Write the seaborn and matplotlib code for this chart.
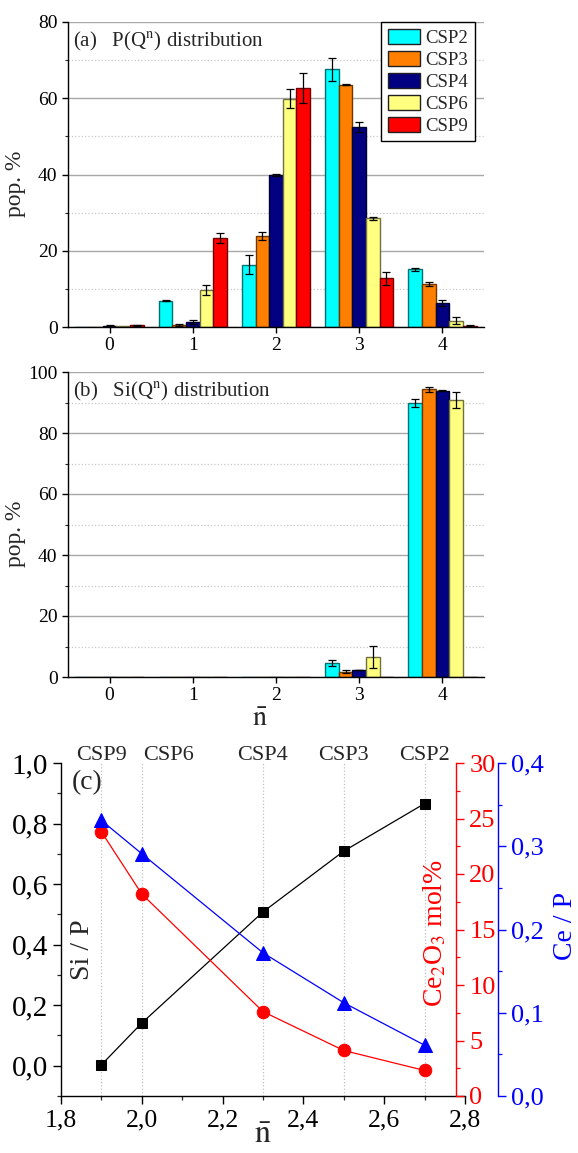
import numpy as np
import pandas as pd
import matplotlib
matplotlib.use('Agg')
import matplotlib.pyplot as plt
import matplotlib.ticker as mticker
from matplotlib.patches import Patch
import seaborn as sns

# ---------------- data ----------------
samples = ['CSP2', 'CSP3', 'CSP4', 'CSP6', 'CSP9']
qn = ['0', '1', '2', '3', '4']

# (a) P(Q^n) populations (%) and errors
p_csp2 = [0.05, 6.9, 16.3, 67.6, 15.1]
p_csp3 = [0.05, 0.5, 23.9, 63.6, 11.2]
p_csp4 = [0.3, 1.4, 39.9, 52.5, 6.2]
p_csp6 = [0.3, 9.7, 59.9, 28.5, 1.7]
p_csp9 = [0.4, 23.4, 62.6, 12.8, 0.3]
p_err2 = [0.0, 0.2, 2.5, 3.0, 0.3]
p_err3 = [0.0, 0.3, 1.1, 0.2, 0.5]
p_err4 = [0.2, 0.5, 0.2, 1.3, 0.8]
p_err6 = [0.0, 1.2, 2.4, 0.4, 0.8]
p_err9 = [0.2, 1.3, 3.9, 1.7, 0.1]

# (b) Si(Q^n) populations (%) and errors
si_csp2 = [0, 0, 0, 4.6, 89.8]
si_csp3 = [0, 0, 0, 1.7, 94.3]
si_csp4 = [0, 0, 0, 2.3, 93.9]
si_csp6 = [0, 0, 0, 6.6, 90.8]
si_csp9 = [0, 0, 0, 0, 0]
si_err2 = [0, 0, 0, 1.0, 1.3]
si_err3 = [0, 0, 0, 0.5, 0.9]
si_err4 = [0, 0, 0, 0.1, 0.2]
si_err6 = [0, 0, 0, 3.7, 2.5]
si_err9 = [0, 0, 0, 0, 0]

# (c) composition vs mean n
c_labels = ['CSP9', 'CSP6', 'CSP4', 'CSP3', 'CSP2']
n_bar = [1.9, 2.0, 2.3, 2.5, 2.7]
si_p = [0.003, 0.141, 0.508, 0.709, 0.866]
ce2o3_mol = [23.8, 18.2, 7.6, 4.1, 2.3]
ce_p = [0.331, 0.291, 0.172, 0.112, 0.061]

# ---------------- style ----------------
face_colors = ['#00FFFF', '#FF8000', '#000080', '#FFFF80', '#FF0000']
edge_colors = ['#007070', '#703800', '#000030', '#707040', '#700000']

sns.set_style('ticks')
plt.rcParams['font.family'] = 'serif'
plt.rcParams['font.serif'] = ['Liberation Serif', 'STIXGeneral', 'DejaVu Serif']
plt.rcParams['mathtext.fontset'] = 'stix'
plt.rcParams['axes.linewidth'] = 1.0

fig = plt.figure(figsize=(5.78, 11.53), dpi=100)
W, H = 578.0, 1153.0


def fig_rect(l, t, r, b):
    return [l / W, 1 - b / H, (r - l) / W, (b - t) / H]


def long_frame(vals, errs):
    rows = []
    for s, v, e in zip(samples, vals, errs):
        for q, vv, ee in zip(qn, v, e):
            rows.append({'Qn': q, 'sample': s, 'pop': vv, 'err': ee})
    return pd.DataFrame(rows)


def bar_panel(ax, df, ymax, title):
    sns.barplot(data=df, x='Qn', y='pop', hue='sample', order=qn,
                hue_order=samples, palette=face_colors, errorbar=None,
                saturation=1, width=0.82, legend=False, ax=ax, zorder=2)
    conts = list(ax.containers)
    for i, cont in enumerate(conts):
        s = samples[i]
        sub = df[df['sample'] == s].set_index('Qn')
        for j, bar in enumerate(cont.patches):
            bar.set_edgecolor(edge_colors[i])
            bar.set_linewidth(1.0)
            e = sub.loc[qn[j], 'err']
            if e > 0:
                ax.errorbar(bar.get_x() + bar.get_width() / 2, bar.get_height(),
                            yerr=e, fmt='none', ecolor='black',
                            elinewidth=0.9, capsize=2.6, capthick=0.9, zorder=3)
    ax.set_xlim(-0.5, 4.5)
    ax.set_ylim(0, ymax)
    ax.yaxis.set_major_locator(mticker.MultipleLocator(20))
    ax.yaxis.set_minor_locator(mticker.MultipleLocator(10))
    ax.set_axisbelow(True)
    ax.yaxis.grid(True, which='major', color='#a8a8a8', lw=1.0, zorder=0)
    ax.yaxis.grid(True, which='minor', color='#c8c8c8', ls=':', lw=0.9, zorder=0)
    ax.xaxis.grid(False)
    for sp in ['top', 'right']:
        ax.spines[sp].set_visible(False)
    ax.spines['left'].set_color('black')
    ax.spines['bottom'].set_color('black')
    ax.tick_params(axis='both', which='major', direction='out', length=4,
                   width=1, labelsize=14, colors='black', left=True, bottom=True)
    ax.tick_params(axis='y', which='minor', direction='out', length=2,
                   width=0.8, left=True)
    ax.set_ylabel('pop. %', fontsize=17)
    ax.yaxis.set_label_coords(-0.10, 0.47)
    ax.text(0.012, 0.935, title, transform=ax.transAxes, fontsize=15,
            ha='left', va='center')


# ---------------- panel (a) ----------------
ax1 = fig.add_axes(fig_rect(68, 22, 484, 327))
df_a = long_frame([p_csp2, p_csp3, p_csp4, p_csp6, p_csp9],
                  [p_err2, p_err3, p_err4, p_err6, p_err9])
bar_panel(ax1, df_a, 80, r'(a)   P(Q$^{\mathrm{n}}$) distribution')
ax1.set_xlabel('')
handles = [Patch(facecolor=fc, edgecolor='#202020', lw=1.0, label=s)
           for fc, s in zip(face_colors, samples)]
leg = ax1.legend(handles=handles, loc='upper right', bbox_to_anchor=(0.978, 1.0),
                 fontsize=13.5, frameon=True, fancybox=False, edgecolor='black',
                 framealpha=1, handlelength=1.7, handleheight=0.85,
                 labelspacing=0.22, handletextpad=0.3, borderpad=0.35,
                 borderaxespad=0.0)
leg.get_frame().set_linewidth(1.0)

# ---------------- panel (b) ----------------
ax2 = fig.add_axes(fig_rect(68, 372, 484, 677))
df_b = long_frame([si_csp2, si_csp3, si_csp4, si_csp6, si_csp9],
                  [si_err2, si_err3, si_err4, si_err6, si_err9])
bar_panel(ax2, df_b, 100, r'(b)   Si(Q$^{\mathrm{n}}$) distribution')
ax2.set_xlabel(r'$\bar{\mathrm{n}}$', fontsize=20)
ax2.xaxis.set_label_coords(0.46, -0.1)

# ---------------- panel (c) ----------------
ax3 = fig.add_axes(fig_rect(61, 763, 465, 1096))
comma = mticker.FuncFormatter(lambda v, p: f'{v:.1f}'.replace('.', ','))
comma_int = mticker.FuncFormatter(lambda v, p: f'{v:.0f}')

for xv in n_bar:
    ax3.axvline(xv, color='#c0c0c0', ls=':', lw=0.9, zorder=0)

sns.lineplot(x=n_bar, y=si_p, ax=ax3, color='black', lw=0.9, marker='s',
             markersize=7.5, markeredgecolor='black', zorder=3)
ax3.set_xlim(1.8, 2.8)
ax3.set_ylim(-0.1, 1.0)
ax3.xaxis.set_major_locator(mticker.MultipleLocator(0.2))
ax3.xaxis.set_minor_locator(mticker.MultipleLocator(0.1))
ax3.yaxis.set_major_locator(mticker.FixedLocator([0, 0.2, 0.4, 0.6, 0.8, 1.0]))
ax3.yaxis.set_minor_locator(mticker.MultipleLocator(0.1))
ax3.xaxis.set_major_formatter(comma)
ax3.yaxis.set_major_formatter(comma)
for sp in ['top', 'right']:
    ax3.spines[sp].set_visible(False)
ax3.spines['left'].set_color('black')
ax3.spines['bottom'].set_color('black')
ax3.tick_params(axis='both', which='major', direction='out', length=6, width=1,
                colors='black', left=True, bottom=True)
ax3.tick_params(axis='y', which='major', labelsize=21)
ax3.tick_params(axis='x', which='major', labelsize=18.5)
ax3.tick_params(axis='both', which='minor', direction='out', length=3, width=0.9,
                left=True, bottom=True)
ax3.set_xlabel(r'$\bar{\mathrm{n}}$', fontsize=23)
ax3.xaxis.set_label_coords(0.5, -0.075)
ax3.text(0.052, 0.44, 'Si / P', transform=ax3.transAxes, fontsize=20,
         rotation=90, ha='center', va='center')
ax3.text(0.027, 0.94, '(c)', transform=ax3.transAxes, fontsize=20,
         ha='left', va='center')
for lab, xv in zip(c_labels, n_bar):
    ha = 'left' if lab == 'CSP6' else 'center'
    xo = 2.003 if lab == 'CSP6' else xv
    ax3.text(xo, 0.995, lab, transform=ax3.get_xaxis_transform(), fontsize=16,
             ha=ha, va='bottom')

# red axis
ax_r = ax3.twinx()
ax_r.spines['right'].set_position(('axes', 0.978))
ax_r.spines['right'].set_color('red')
for sp in ['top', 'left', 'bottom']:
    ax_r.spines[sp].set_visible(False)
sns.lineplot(x=n_bar, y=ce2o3_mol, ax=ax_r, color='red', lw=0.9, marker='o',
             markersize=9, markeredgecolor='red', zorder=3)
ax_r.set_ylim(0, 30)
ax_r.yaxis.set_major_locator(mticker.MultipleLocator(5))
ax_r.yaxis.set_minor_locator(mticker.MultipleLocator(2.5))
ax_r.yaxis.set_major_formatter(comma_int)
ax_r.tick_params(axis='y', which='major', direction='out', length=6, width=1,
                 labelsize=19, colors='red', right=True, left=False)
ax_r.tick_params(axis='y', which='minor', direction='out', length=3, width=0.9,
                 colors='red', right=True, left=False)
ax_r.set_ylabel('')
ax_r.text(0.925, 0.49, r'Ce$_2$O$_3$ mol%', transform=ax3.transAxes,
          fontsize=20, color='red', rotation=90, ha='center', va='center')

# blue axis
ax_b = ax3.twinx()
ax_b.spines['right'].set_position(('axes', 1.082))
ax_b.spines['right'].set_color('blue')
for sp in ['top', 'left', 'bottom']:
    ax_b.spines[sp].set_visible(False)
sns.lineplot(x=n_bar, y=ce_p, ax=ax_b, color='blue', lw=0.9, marker='^',
             markersize=10, markeredgecolor='blue', zorder=3)
ax_b.set_ylim(0, 0.4)
ax_b.yaxis.set_major_locator(mticker.MultipleLocator(0.1))
ax_b.yaxis.set_minor_locator(mticker.MultipleLocator(0.05))
ax_b.yaxis.set_major_formatter(comma)
ax_b.tick_params(axis='y', which='major', direction='out', length=6, width=1,
                 labelsize=19, colors='blue', right=True, left=False)
ax_b.tick_params(axis='y', which='minor', direction='out', length=3, width=0.9,
                 colors='blue', right=True, left=False)
ax_b.set_ylabel('')
ax_b.text(1.25, 0.51, 'Ce / P', transform=ax3.transAxes, fontsize=20,
          color='blue', rotation=90, ha='center', va='center')

fig.savefig('out.png', dpi=100)
